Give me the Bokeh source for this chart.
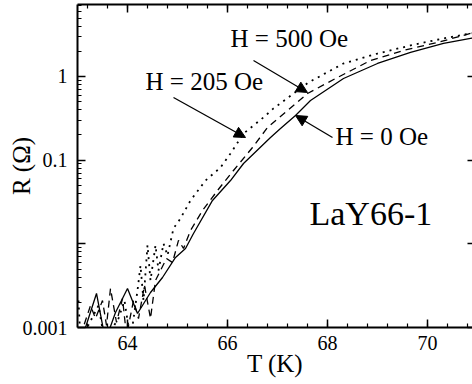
import numpy as np
from bokeh.plotting import figure
from bokeh.models import (LogAxis, LinearAxis, FixedTicker, CustomJSTickFormatter,
                          Label, Arrow, NormalHead, Range1d)
from bokeh.embed import file_html
from bokeh.resources import INLINE

# ---- data ----
T_0 = [63.16, 63.38, 63.56, 63.76, 64.0, 64.2, 64.46, 64.7, 64.96, 65.16, 65.32,
       65.7, 66.06, 66.32, 66.86, 67.06, 67.36, 67.66, 68.32, 69.0, 69.66, 70.32, 70.86, 71.0]
R_0 = [0.0010, 0.00255, 0.0007, 0.00151, 0.00292, 0.00147, 0.00262, 0.00396, 0.00687, 0.00879, 0.0133,
       0.033, 0.0571, 0.0912, 0.187, 0.239, 0.342, 0.516, 0.946, 1.43, 1.94, 2.48, 2.85, 2.95]

T_500 = [63.06, 63.26, 63.36, 63.5, 63.58, 63.66, 63.78, 63.9, 63.98, 64.12, 64.22, 64.34,
         64.46, 64.56, 64.66, 64.78, 64.9, 65.02, 65.12, 65.26, 65.5, 65.8, 66.12, 66.5,
         66.8, 67.6, 68.2, 68.86, 69.52, 70.2, 70.86, 71.0]
R_500 = [0.0008, 0.00183, 0.00128, 0.0021, 0.00106, 0.00292, 0.00115, 0.00222, 0.0008, 0.0021,
         0.00128, 0.00318, 0.00128, 0.00365, 0.0048, 0.00668, 0.00598, 0.011, 0.0088, 0.0144,
         0.025, 0.0434, 0.0753, 0.1416, 0.2455, 0.626, 0.973, 1.553, 2.05, 2.55, 3.27, 3.35]

T_205 = [63.02, 63.06, 63.42, 63.54, 63.82, 63.94, 64.06, 64.2, 64.26, 64.32, 64.4, 64.46,
         64.56, 64.62, 64.72, 64.8, 64.92, 65.06, 65.26, 65.56, 65.86, 66.06, 66.32, 66.72,
         66.92, 67.62, 68.32, 69.0, 69.66, 70.32, 70.86, 71.0]
R_205 = [0.0021, 0.0007, 0.00183, 0.0007, 0.00128, 0.0021, 0.0007, 0.00277, 0.0055, 0.0021,
         0.0096, 0.00365, 0.0096, 0.0048, 0.0101, 0.00726, 0.0153, 0.0201, 0.033, 0.0571,
         0.0817, 0.120, 0.208, 0.324, 0.415, 0.848, 1.43, 1.88, 2.35, 2.85, 3.27, 3.35]

x_major = [64, 66, 68, 70]
y_major = [0.001, 0.01, 0.1, 1]
y_labels = ["0.001", "", "0.1", "1"]

FONT = "Liberation Serif"

p = figure(width=472, height=384, x_range=Range1d(63, 70.9), y_range=Range1d(0.001, 7.25),
           y_axis_type="log", output_backend="svg", toolbar_location=None,
           min_border_left=77, min_border_right=0, min_border_top=4, min_border_bottom=57)
p.grid.visible = False
p.outline_line_color = None

x_minor = [round(v, 2) for v in np.arange(63.2, 71.0, 0.4)]
y_minor = [m * 10.0 ** e for e in range(-3, 1) for m in range(2, 10)]

xt = FixedTicker(ticks=x_major, minor_ticks=x_minor)
yt = FixedTicker(ticks=y_major, minor_ticks=y_minor)

fmt = CustomJSTickFormatter(args=dict(vals=y_major, labs=y_labels), code="""
for (let i = 0; i < vals.length; i++) {
  if (Math.abs(Math.log10(tick) - Math.log10(vals[i])) < 1e-6) return labs[i];
}
return '';
""")
blank = CustomJSTickFormatter(code="return '';")

def style(ax, major_in=8, minor_in=4):
    ax.axis_line_width = 2
    ax.axis_line_color = "black"
    ax.major_tick_in = major_in
    ax.major_tick_out = 0
    ax.minor_tick_in = minor_in
    ax.minor_tick_out = 0
    ax.major_tick_line_width = 1.5
    ax.minor_tick_line_width = 1.2
    ax.major_tick_line_color = "black"
    ax.minor_tick_line_color = "black"
    ax.major_label_text_font = FONT
    ax.major_label_text_font_size = "20px"
    ax.major_label_text_color = "black"
    ax.axis_label_text_font = FONT
    ax.axis_label_text_font_size = "25px"
    ax.axis_label_text_font_style = "normal"
    ax.axis_label_text_color = "black"

xb = p.xaxis[0]
xb.ticker = xt
style(xb)
xb.major_label_standoff = 8
xb.axis_label = "T (K)"
xb.axis_label_standoff = -3

yl = p.yaxis[0]
yl.ticker = yt
yl.formatter = fmt
style(yl)
yl.major_label_standoff = 10
yl.axis_label = "R (Ω)"
yl.axis_label_standoff = -15

xa = LinearAxis(ticker=xt, formatter=blank)
style(xa)
xa.major_label_standoff = 0
xa.axis_label_standoff = 0
p.add_layout(xa, "above")

yr = LogAxis(ticker=FixedTicker(ticks=y_major, minor_ticks=[]), formatter=blank)
style(yr, major_in=5)
yr.axis_line_color = None
yr.minor_tick_line_color = None
yr.major_label_standoff = 0
yr.axis_label_standoff = 0
p.add_layout(yr, "right")

p.line(T_0, R_0, line_color="black", line_width=1.3)
p.line(T_500, R_500, line_color="black", line_width=1.3, line_dash="7 5")
p.line(T_205, R_205, line_color="black", line_width=1.8, line_dash="2 5")

def lab(x, y, t, size="25px", **kw):
    p.add_layout(Label(x=x, y=y, text=t, text_font=FONT, text_font_size=size,
                       text_color="black", **kw))

lab(66.06, 1.94, "H = 500 Oe")
lab(64.36, 0.593, "H = 205 Oe")
lab(68.16, 0.1305, "H = 0 Oe")
lab(67.64, 0.01367, "LaY66-1", size="34px")

for xs, ys, xe, ye in [(66.52, 1.553, 67.6, 0.644),
                       (64.92, 0.561, 66.36, 0.1866),
                       (68.1, 0.1866, 67.36, 0.342)]:
    p.add_layout(Arrow(end=NormalHead(size=11, fill_color="black", line_color="black"),
                       x_start=xs, y_start=ys, x_end=xe, y_end=ye,
                       line_color="black", line_width=1.3))

open("out.html", "w").write(file_html(p, INLINE))
